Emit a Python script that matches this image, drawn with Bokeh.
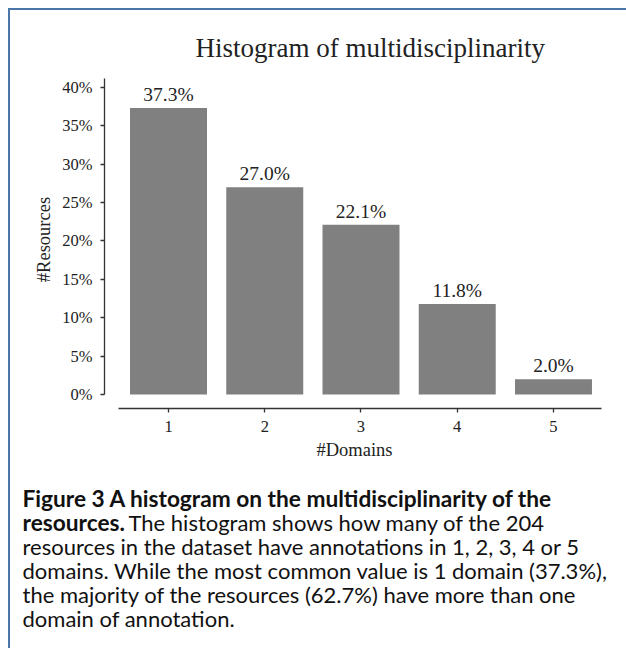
from bokeh.plotting import figure
from bokeh.models import Range1d, FixedTicker, PrintfTickFormatter, ColumnDataSource
from bokeh.layouts import column
from bokeh.core.properties import value
from bokeh.embed import file_html
from bokeh.resources import INLINE

# ---- data ----
domains = [1, 2, 3, 4, 5]
shares = [37.3, 27.0, 22.1, 11.8, 2.0]
bar_labels = [f"{v:.1f}%" for v in shares]
y_ticks = [0, 5, 10, 15, 20, 25, 30, 35, 40]
x_ticks = [1, 2, 3, 4, 5]

title_text = "Histogram of multidisciplinarity"
x_label = "#Domains"
y_label = "#Resources"

caption_bold_1 = "Figure 3  A histogram on the multidisciplinarity of the"
caption_bold_2 = "resources."
caption_rest_2 = "The histogram shows how many of the 204"
caption_lines = [
    "resources in the dataset have annotations in 1, 2, 3, 4 or 5",
    "domains. While the most common value is 1 domain (37.3%),",
    "the majority of the resources (62.7%) have more than one",
    "domain of annotation.",
]

SERIF = "Liberation Serif"
SANS = "Lato"
TXT = "#222222"
AX = "#333333"

src = ColumnDataSource(dict(x=domains, top=shares, label=bar_labels))

p = figure(width=616, height=462, output_backend="svg", toolbar_location=None,
           x_range=Range1d(0.335, 5.53), y_range=Range1d(-1.82, 42.19),
           min_border_left=94, min_border_right=22, min_border_top=60,
           min_border_bottom=64)
p.outline_line_color = None
p.grid.visible = False
p.background_fill_color = "white"
p.border_fill_color = "white"

p.vbar(x="x", top="top", bottom=0, width=0.8, source=src,
       fill_color="#808080", line_color=None)
p.text(x="x", y="top", text="label", source=src, text_align="center",
       text_baseline="bottom", y_offset=-3, text_font=value(SERIF),
       text_font_size="19.5px", text_color=TXT)

p.title.text = title_text
p.title.align = "left"
p.title.text_font = SERIF
p.title.text_font_size = "27px"
p.title.text_font_style = "normal"
p.title.text_color = TXT
p.title.offset = 91
p.title.standoff = 16

for ax in (p.xaxis[0], p.yaxis[0]):
    ax.axis_line_color = AX
    ax.axis_line_width = 1.3
    ax.major_tick_line_color = AX
    ax.major_tick_line_width = 1.3
    ax.major_tick_out = 4
    ax.major_tick_in = 0
    ax.minor_tick_line_color = None
    ax.major_label_text_font = SERIF
    ax.major_label_text_font_size = "16.5px"
    ax.major_label_text_color = TXT
    ax.axis_label_text_font = SERIF
    ax.axis_label_text_font_size = "18.5px"
    ax.axis_label_text_font_style = "normal"
    ax.axis_label_text_color = TXT
    ax.major_label_standoff = 8

p.xaxis.ticker = FixedTicker(ticks=x_ticks)
p.xaxis.bounds = (0.48, 5.5)
p.xaxis.axis_label = x_label
p.xaxis.axis_label_standoff = 5

p.yaxis.ticker = FixedTicker(ticks=y_ticks)
p.yaxis.formatter = PrintfTickFormatter(format="%d%%")
p.yaxis.bounds = (0, 41.2)
p.yaxis.axis_label = y_label
p.yaxis.axis_label_standoff = 5

# ---- caption ----
CH = 176
c = figure(width=616, height=CH, output_backend="svg", toolbar_location=None,
           x_range=Range1d(0, 616), y_range=Range1d(CH, 0), min_border=0,
           x_axis_location=None, y_axis_location=None)
c.grid.visible = False
c.outline_line_color = None
c.background_fill_color = "white"
c.border_fill_color = "white"

fs = "22px"
fsb = "22.7px"
col = "#111111"
x0 = 12
line_y = [26, 50, 74, 98, 122, 146]
c.text(x=[x0], y=[line_y[0]], text=[caption_bold_1], text_font=value(SANS),
       text_font_style="bold", text_font_size=fsb, text_baseline="middle", text_color=col)
c.text(x=[x0], y=[line_y[1]], text=[caption_bold_2], text_font=value(SANS),
       text_font_style="bold", text_font_size=fsb, text_baseline="middle", text_color=col)
c.text(x=[118], y=[line_y[1]], text=[caption_rest_2], text_font=value(SANS),
       text_font_size=fs, text_baseline="middle", text_color=col)
c.text(x=[x0] * 4, y=line_y[2:], text=caption_lines, text_font=value(SANS),
       text_font_size=fs, text_baseline="middle", text_color=col)

layout = column(p, column(c), spacing=0,
                styles={"margin-left": "8px", "margin-top": "8px",
                        "border-left": "2px solid #4a76a8",
                        "border-top": "2px solid #4a76a8"})

open("out.html", "w").write(file_html(layout, INLINE))
